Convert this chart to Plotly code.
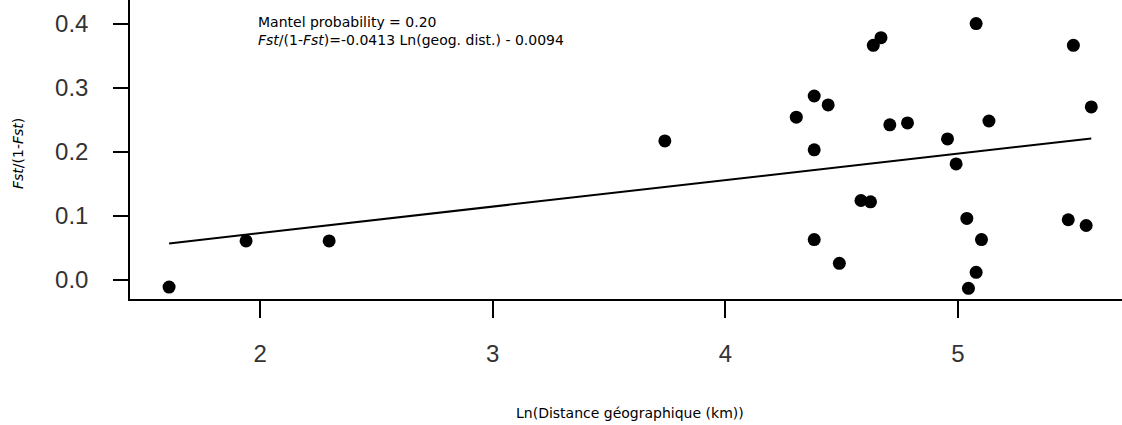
import plotly.graph_objects as go

ln_dist = [1.609, 1.94, 2.297, 3.740, 4.305, 4.382, 4.442, 4.382, 4.382, 4.490,
           4.636, 4.669, 4.707, 4.783, 4.583, 4.624, 4.955, 4.992, 5.078, 5.133,
           5.038, 5.101, 5.078, 5.045, 5.496, 5.573, 5.474, 5.551]
fst_ratio = [-0.011, 0.061, 0.061, 0.217, 0.254, 0.287, 0.273, 0.203, 0.063, 0.026,
             0.366, 0.378, 0.242, 0.245, 0.124, 0.122, 0.220, 0.181, 0.400, 0.248,
             0.096, 0.063, 0.012, -0.013, 0.366, 0.270, 0.094, 0.085]
slope = 0.0413
intercept = -0.0094
x_ticks = [2, 3, 4, 5]
y_ticks = [0.0, 0.1, 0.2, 0.3, 0.4]
y_ticklabels = ["0.0", "0.1", "0.2", "0.3", "0.4"]

x_line = [min(ln_dist), max(ln_dist)]
y_line = [slope * v + intercept for v in x_line]

fig = go.Figure()
fig.add_trace(go.Scatter(x=x_line, y=y_line, mode="lines",
                         line=dict(color="black", width=2), hoverinfo="skip"))
fig.add_trace(go.Scatter(x=ln_dist, y=fst_ratio, mode="markers",
                         marker=dict(color="black", size=13)))

tickfont = dict(family="Liberation Sans", size=24, color="#333333")
fig.update_layout(
    width=1122, height=425,
    margin=dict(l=130, r=0, t=0, b=126),
    plot_bgcolor="white", paper_bgcolor="white",
    showlegend=False,
    xaxis=dict(range=[1.441, 5.705], tickvals=x_ticks, ticktext=[str(v) for v in x_ticks],
               showline=True, linecolor="black", linewidth=1.5, ticks="outside",
               ticklen=17, tickwidth=1.5, tickcolor="black", showgrid=False,
               zeroline=False, tickfont=tickfont, ticklabelstandoff=15),
    yaxis=dict(range=[-0.0296, 0.4367], tickvals=y_ticks, ticktext=y_ticklabels,
               showline=True, linecolor="black", linewidth=1.5, ticks="outside",
               ticklen=15, tickwidth=1.5, tickcolor="black", showgrid=False,
               zeroline=False, tickfont=tickfont, ticklabelstandoff=20),
    font=dict(family="DejaVu Sans", color="black"),
)

fig.add_annotation(xref="paper", yref="paper", x=(256 - 130) / 992, y=1 - 12 / 299,
                   xanchor="left", yanchor="top", showarrow=False, align="left",
                   text="Mantel probability = 0.20<br><i>Fst</i>/(1-<i>Fst</i>)=-0.0413 Ln(geog. dist.) - 0.0094",
                   font=dict(size=14, color="black"))
fig.add_annotation(xref="paper", yref="paper", x=(630 - 130) / 992, y=-(413 - 299) / 299,
                   xanchor="center", yanchor="middle", showarrow=False,
                   text="Ln(Distance géographique (km))", font=dict(size=14, color="black"))
fig.add_annotation(xref="paper", yref="paper", x=-(130 - 18) / 992, y=1 - 154 / 299,
                   xanchor="center", yanchor="middle", showarrow=False, textangle=-90,
                   text="<i>Fst</i>/(1-<i>Fst</i>)", font=dict(size=14, color="black"))

fig.write_html("out.html")
